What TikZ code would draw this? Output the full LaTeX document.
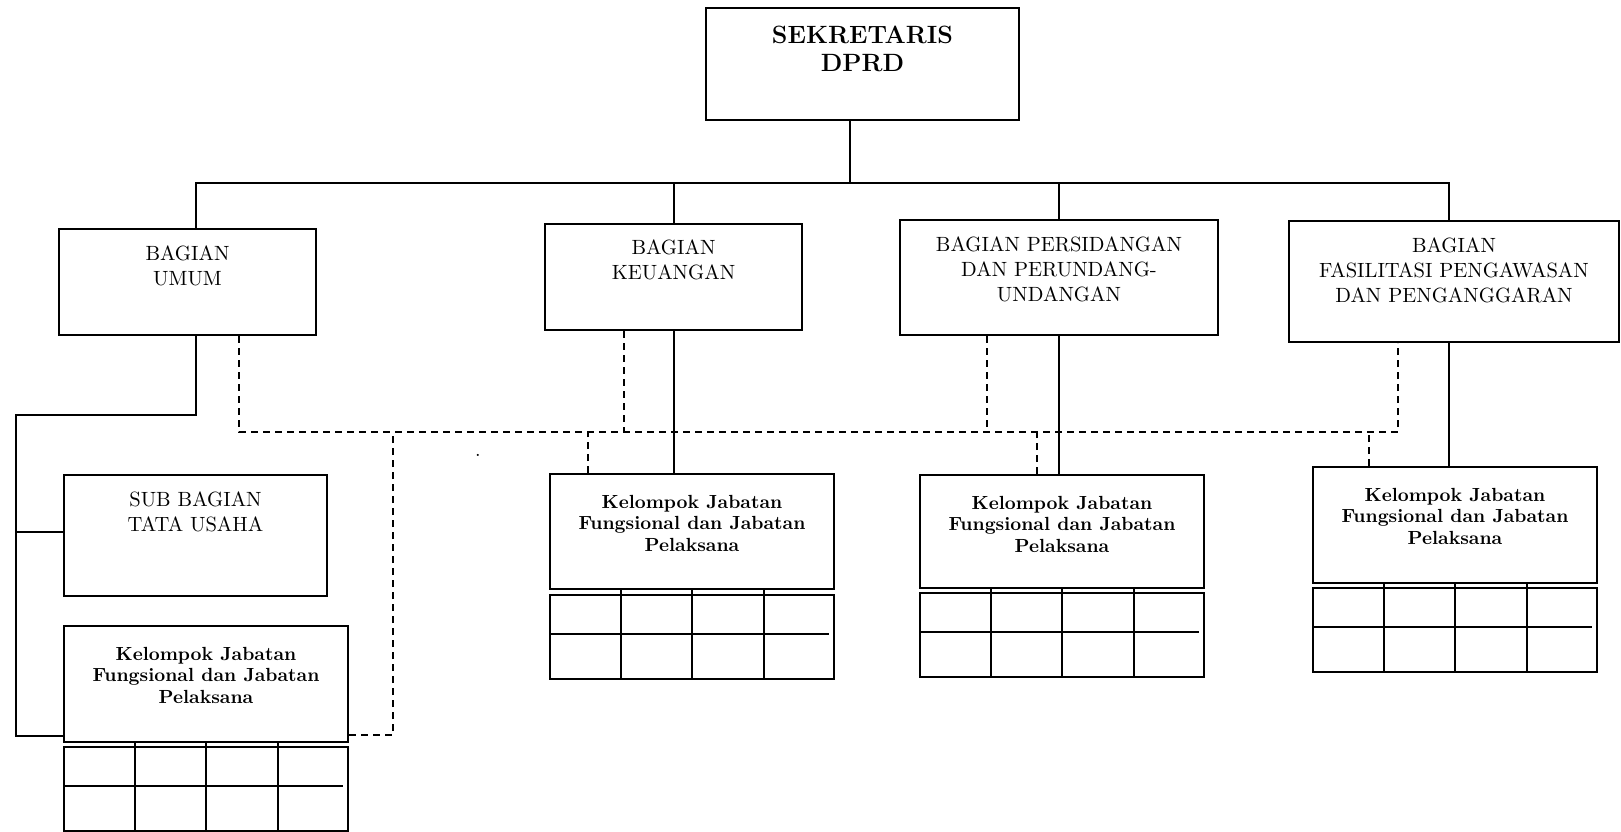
\documentclass[tikz,border=0pt]{standalone}
\usetikzlibrary{positioning, calc}

\newcommand{\kotak}[4]{\parbox[c][#2][t]{#1}{\centering\rule{0pt}{#3}#4}}

\tikzset{
  unit/.style={draw, line width=1pt, inner sep=0pt, anchor=north west, font=\fontsize{10.3}{12.5}\selectfont},
  kepala/.style={unit, font=\fontsize{12.5}{14}\selectfont\bfseries},
  kelompok/.style={unit, font=\fontsize{9.5}{10.8}\selectfont\bfseries},
  petak/.style={draw, line width=1pt, inner sep=0pt, anchor=north west, minimum width=142pt, minimum height=42pt},
  garis/.style={line width=1pt},
  koord/.style={line width=0.9pt, dash pattern=on 3.5pt off 2.5pt},
}

\begin{document}
\begin{tikzpicture}[x=0.5pt, y=-0.5pt]
\useasboundingbox (0,0) rectangle (1621,831);

\node[kepala] (sek) at (705,7) {\kotak{156.5pt}{56pt}{17.5pt}{SEKRETARIS\\DPRD}};
\node[unit] (umum) at (58,228) {\kotak{128.5pt}{53pt}{15.5pt}{BAGIAN\\UMUM}};
\node[unit] (keu) at (544,223) {\kotak{128.5pt}{53pt}{15pt}{BAGIAN\\KEUANGAN}};
\node[unit] (pers) at (899,219) {\kotak{159pt}{57.5pt}{15.5pt}{BAGIAN PERSIDANGAN\\DAN PERUNDANG-\\UNDANGAN}};
\node[unit] (fas) at (1288,220) {\kotak{165pt}{60.5pt}{15.8pt}{BAGIAN\\FASILITASI PENGAWASAN\\DAN PENGANGGARAN}};
\node[unit] (sub) at (63,474) {\kotak{131.5pt}{60.5pt}{15.5pt}{SUB BAGIAN\\TATA USAHA}};

\node[kelompok] (k1) at (63,625) {\kotak{142pt}{58pt}{17pt}{Kelompok Jabatan\\Fungsional dan Jabatan\\Pelaksana}};
\node[kelompok] (k2) at (549,473) {\kotak{142pt}{57.5pt}{17pt}{Kelompok Jabatan\\Fungsional dan Jabatan\\Pelaksana}};
\node[kelompok] (k3) at (919,474) {\kotak{142pt}{56.5pt}{17pt}{Kelompok Jabatan\\Fungsional dan Jabatan\\Pelaksana}};
\node[kelompok] (k4) at (1312,466) {\kotak{142pt}{58pt}{17pt}{Kelompok Jabatan\\Fungsional dan Jabatan\\Pelaksana}};

\node[petak] (g1) at (63,746) {};
\node[petak] (g2) at (549,594) {};
\node[petak] (g3) at (919,592) {};
\node[petak] (g4) at (1312,587) {};

\foreach \i in {1,...,4} {
  \foreach \f in {0.25,0.5,0.75}
    \draw[garis] ($(k\i.south west)!\f!(k\i.south east)$) -- ($(g\i.south west)!\f!(g\i.south east)$);
  \draw[garis] ($(g\i.west)+(0,-3)$) -- ($(g\i.east)+(-6,-3)$);
}

% garis komando
\coordinate (bus) at (850,183);
\coordinate (umumatas) at ([xshift=4.25pt]umum.north);
\coordinate (fasatas) at ([xshift=-2.5pt]fas.north);
\draw[garis] (bus |- sek.south) -- (bus);
\draw[garis] (umumatas) |- (bus) -| (fasatas);
\draw[garis] (keu.north) -- (keu.north |- bus);
\draw[garis] (pers.north) -- (pers.north |- bus);

\coordinate (umumbawah) at ([xshift=4.25pt]umum.south);
\coordinate (tulang) at (16,415);
\coordinate (subkiri) at ([yshift=2pt]sub.west);
\coordinate (k1kiri) at ([yshift=3.5pt]k1.south west);
\draw[garis] (umumbawah) |- (tulang) |- (k1kiri);
\draw[garis] (tulang |- subkiri) -- (subkiri);

\coordinate (fasbawah) at ([xshift=-2.5pt]fas.south);
\draw[garis] (keu.south) -- (keu.south |- k2.north);
\draw[garis] (pers.south) -- (pers.south |- k3.north);
\draw[garis] (fasbawah) -- (fasbawah |- k4.north);

% garis koordinasi
\coordinate (jalur) at (0,432);
\coordinate (du) at ([xshift=25.75pt]umum.south);
\coordinate (dk) at ([xshift=-24.75pt]keu.south);
\coordinate (dp) at ([xshift=-36pt]pers.south);
\coordinate (df) at ([xshift=-28pt]fas.south);
\draw[koord] (du) |- (df |- jalur) -- (df);
\draw[koord] (dk) -- (dk |- jalur);
\draw[koord] (dp) -- (dp |- jalur);

\coordinate (k1kanan) at ([yshift=4pt]k1.south east);
\coordinate (d1) at ([xshift=22pt]k1.south east);
\coordinate (d2) at ([xshift=-52pt]k2.north);
\coordinate (d3) at ([xshift=-12.5pt]k3.north);
\coordinate (d4) at ([xshift=-43pt]k4.north);
\draw[koord] (k1kanan) -| (d1 |- jalur);
\draw[koord] (d2) -- (d2 |- jalur);
\draw[koord] (d3) -- (d3 |- jalur);
\draw[koord] (d4) -- (d4 |- jalur);

\node[inner sep=0pt] (titik) at (478,455) {.};
\end{tikzpicture}
\end{document}
